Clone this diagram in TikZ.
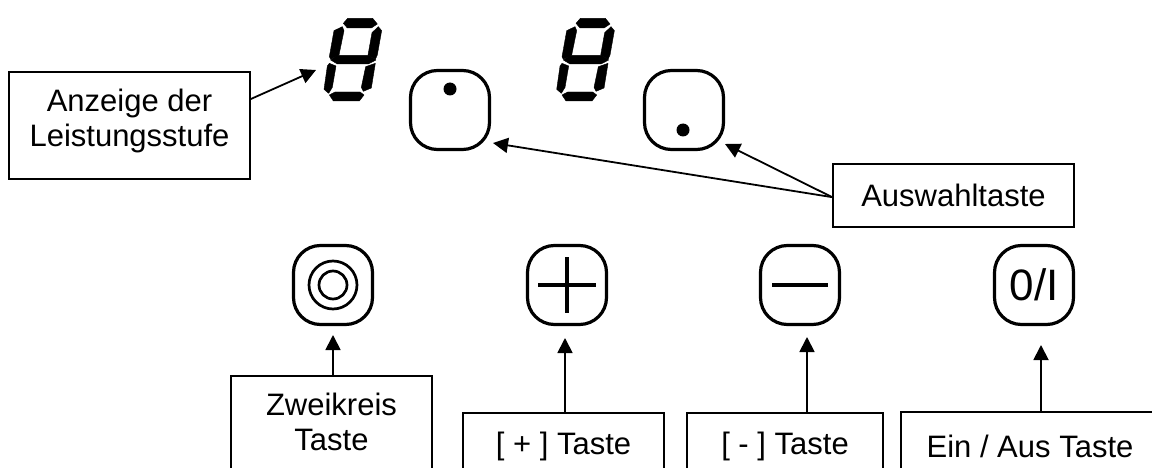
\documentclass[tikz,border=0pt]{standalone}
\usepackage{fontspec}
\setmainfont{Liberation Sans}
\usetikzlibrary{arrows.meta}
\tikzset{
  labelbox/.style={draw, line width=1.7pt, align=center, inner sep=0pt, font=\fontsize{31}{35}\selectfont},
  keybtn/.style={draw, line width=3.2pt, rounded corners=27pt, minimum size=79pt, inner sep=0pt},
  keydot/.style={circle, fill, minimum size=13pt, inner sep=0pt},
  keyline/.style={line width=3.5pt},
  keyring/.style={draw, circle, line width=2.7pt, inner sep=0pt},
  segment/.style={fill, draw, line width=0.4pt, line join=round},
  pointer/.style={-{Triangle[length=15pt,width=15pt]}, line width=1.8pt}
}
\begin{document}
\begin{tikzpicture}[x=1pt, y=-1pt]
        \useasboundingbox (0,0) rectangle (1152,468);
        \clip (0,0) rectangle (1152,468);

        \foreach \dx in {300,532.7} {
          \begin{scope}[shift={(\dx,0)}, x=0.3333pt, y=-0.3333pt]
            \path[segment] (130,70) -- (143,55) -- (218,55) -- (232,72) -- (214,84) -- (142,84) -- cycle;
            \path[segment] (127,80) -- (132,92) -- (117,165) -- (92,178) -- (88,170) -- (102,92) -- cycle;
            \path[segment] (235,80) -- (245,92) -- (232,165) -- (226,178) -- (204,165) -- (216,98) -- cycle;
            \path[segment] (92,180) -- (112,166) -- (206,166) -- (228,180) -- (205,192) -- (112,192) -- cycle;
            \path[segment] (88,190) -- (108,198) -- (97,262) -- (86,280) -- (72,268) -- (82,198) -- cycle;
            \path[segment] (226,190) -- (214,264) -- (190,274) -- (184,262) -- (197,200) -- cycle;
            \path[segment] (88,285) -- (105,276) -- (180,276) -- (192,285) -- (178,303) -- (100,303) -- cycle;
          \end{scope}
        }
        \coordinate (digit) at (316,70);

        \node[keybtn] (selleft) at (450,110) {};
        \node[keybtn] (selright) at (684,110) {};
        \node[keybtn] (dual) at (333,285) {};
        \node[keybtn] (plus) at (567,285) {};
        \node[keybtn] (minus) at (800,285) {};
        \node[keybtn, font=\fontsize{44}{44}\selectfont] (onoff) at (1034,285) {0/I};

        \node[keydot] (dotleft) at (450,89) {};
        \node[keydot] (dotright) at (683,130) {};
        \node[keyring, minimum size=48pt] (ringouter) at (dual.center) {};
        \node[keyring, minimum size=28pt] (ringinner) at (dual.center) {};
        \draw[keyline] ([yshift=28pt]plus.center) -- ([yshift=-28pt]plus.center);
        \draw[keyline] ([xshift=-29pt]plus.center) -- ([xshift=29pt]plus.center);
        \draw[keyline] ([xshift=-28pt]minus.center) -- ([xshift=28pt]minus.center);

        \node[labelbox, anchor=north, minimum width=241pt, text depth=16pt, inner ysep=17pt] (power) at (129.5,71) {Anzeige der\\Leistungsstufe};
        \node[labelbox, minimum width=241pt, minimum height=63pt] (select) at (953.5,195.5) {Auswahltaste};
        \node[labelbox, anchor=north, minimum width=201pt, text depth=60pt, inner ysep=17pt] (dualtxt) at (331.5,375) {Zweikreis\\Taste};
        \node[labelbox, minimum width=201pt, minimum height=66pt] (plustxt) at (563.5,446) {[ + ] Taste};
        \node[labelbox, minimum width=196pt, minimum height=66pt] (minustxt) at (785,446) {[ - ] Taste};
        \node[labelbox, minimum width=258pt, minimum height=68pt] (onofftxt) at (1030,446) {Ein / Aus Taste};

        \coordinate (tipleft) at (493,143);
        \coordinate (tipright) at (725,144);
        \coordinate (tipdual) at (333,335);
        \coordinate (tipplus) at (565,338);
        \coordinate (tipminus) at (807,337);
        \coordinate (tiponoff) at (1041,345);

        \draw[pointer] ([yshift=-28pt]power.north east) -- (digit);
        \draw[pointer] ([yshift=-34pt]select.north west) -- (tipleft);
        \draw[pointer] ([yshift=-34pt]select.north west) -- (tipright);
        \draw[pointer] (dualtxt.north -| tipdual) -- (tipdual);
        \draw[pointer] (plustxt.north -| tipplus) -- (tipplus);
        \draw[pointer] (minustxt.north -| tipminus) -- (tipminus);
        \draw[pointer] (onofftxt.north -| tiponoff) -- (tiponoff);
      \end{tikzpicture}
\end{document}
